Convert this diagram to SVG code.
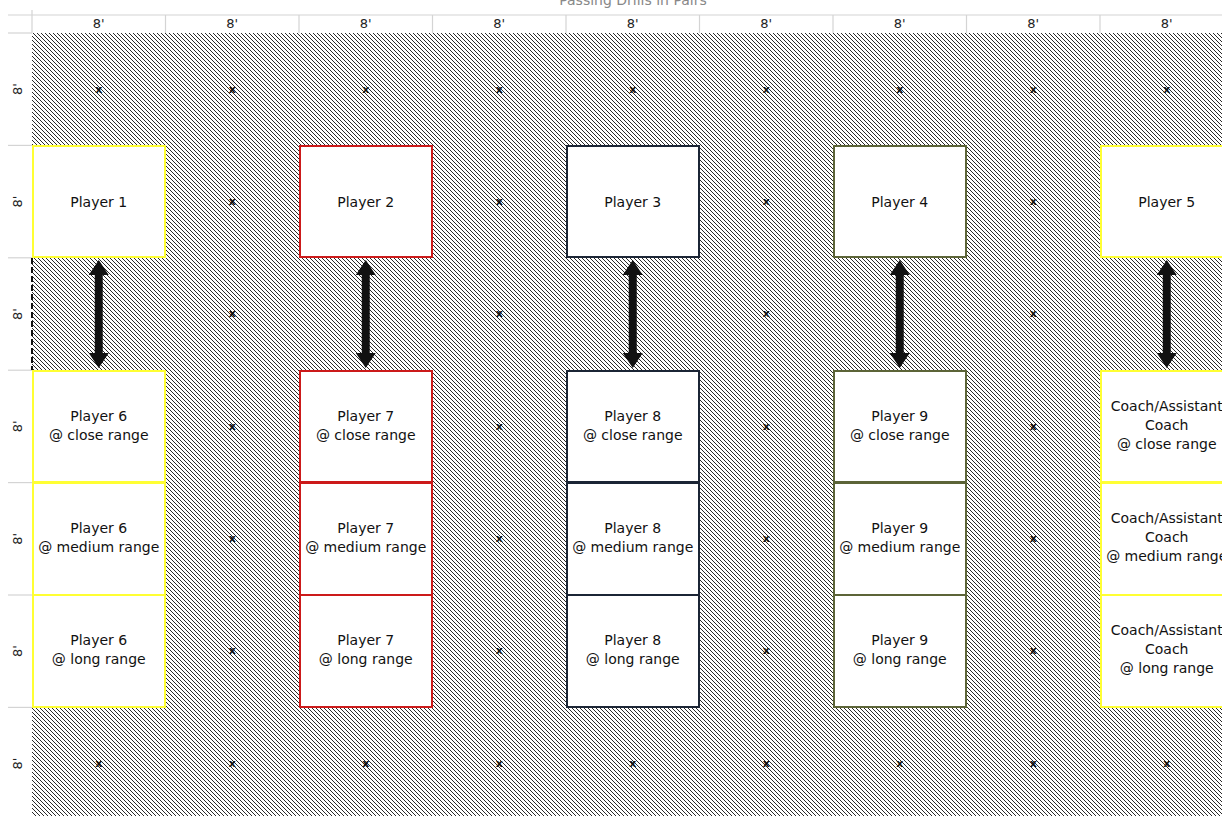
<svg xmlns="http://www.w3.org/2000/svg" width="1222" height="819" viewBox="0 0 1222 819">
<defs>
<pattern id="hatch" patternUnits="userSpaceOnUse" width="4" height="4">
<rect width="4" height="4" fill="#ffffff"/>
<path d="M-1,-1 L5,5 M-1,3 L1,5 M3,-1 L5,1" stroke="#2a2a2a" stroke-width="1"/>
</pattern>
<path id="dblarrow" d="M0,0 L10,15 L4,15 L4,93 L10,93 L0,108 L-10,93 L-4,93 L-4,15 L-10,15 Z" fill="#111"/>
</defs>
<style>
.t{font-family:"DejaVu Sans","Liberation Sans",sans-serif;font-size:14px;fill:#111;text-anchor:middle}
.h{font-family:"DejaVu Sans","Liberation Sans",sans-serif;font-size:13px;fill:#222;text-anchor:middle}
.x{font-family:"DejaVu Sans","Liberation Sans",sans-serif;font-size:11px;font-weight:bold;fill:#111;text-anchor:middle}
.grid{stroke:#d4d4d4;stroke-width:1.2}
.box{fill:#ffffff;stroke-width:2}
.yel{stroke:#ffff33}
.red{stroke:#cc1a1a}
.nav{stroke:#1b2535}
.olv{stroke:#5c6438}
</style>
<rect width="1222" height="819" fill="#ffffff"/>
<rect x="32" y="33" width="1190" height="783" fill="url(#hatch)"/>
<g id="header">
<text x="633" y="5" font-family="DejaVu Sans, sans-serif" font-size="14" fill="#888" text-anchor="middle">Passing Drills in Pairs</text>
<line class="grid" x1="8" y1="15" x2="1222" y2="15"/>
<line class="grid" x1="8" y1="33" x2="32" y2="33"/>
<g class="grid">
<line x1="32" y1="10" x2="32" y2="33"/>
<line x1="165.5" y1="15" x2="165.5" y2="33"/>
<line x1="299" y1="15" x2="299" y2="33"/>
<line x1="432.5" y1="15" x2="432.5" y2="33"/>
<line x1="566" y1="15" x2="566" y2="33"/>
<line x1="699.5" y1="15" x2="699.5" y2="33"/>
<line x1="833" y1="15" x2="833" y2="33"/>
<line x1="966.5" y1="15" x2="966.5" y2="33"/>
<line x1="1100" y1="15" x2="1100" y2="33"/>
</g>
<text class="h" x="98.75" y="28">8'</text>
<text class="h" x="232.25" y="28">8'</text>
<text class="h" x="365.75" y="28">8'</text>
<text class="h" x="499.25" y="28">8'</text>
<text class="h" x="632.75" y="28">8'</text>
<text class="h" x="766.25" y="28">8'</text>
<text class="h" x="899.75" y="28">8'</text>
<text class="h" x="1033.25" y="28">8'</text>
<text class="h" x="1166.75" y="28">8'</text>
</g>
<g id="rowlabels">
<g class="grid">
<line x1="8" y1="145.4" x2="32" y2="145.4"/>
<line x1="8" y1="257.8" x2="32" y2="257.8"/>
<line x1="8" y1="370.2" x2="32" y2="370.2"/>
<line x1="8" y1="482.6" x2="32" y2="482.6"/>
<line x1="8" y1="595" x2="32" y2="595"/>
<line x1="8" y1="707.4" x2="32" y2="707.4"/>
</g>
<text class="h" transform="translate(22,89.2) rotate(-90)">8'</text>
<text class="h" transform="translate(22,201.6) rotate(-90)">8'</text>
<text class="h" transform="translate(22,314) rotate(-90)">8'</text>
<text class="h" transform="translate(22,426.4) rotate(-90)">8'</text>
<text class="h" transform="translate(22,538.8) rotate(-90)">8'</text>
<text class="h" transform="translate(22,651.2) rotate(-90)">8'</text>
<text class="h" transform="translate(22,763.6) rotate(-90)">8'</text>
</g>
<g id="xmarks">
<text class="x" x="98.75" y="93">x</text><text class="x" x="232.25" y="93">x</text><text class="x" x="365.75" y="93">x</text><text class="x" x="499.25" y="93">x</text><text class="x" x="632.75" y="93">x</text><text class="x" x="766.25" y="93">x</text><text class="x" x="899.75" y="93">x</text><text class="x" x="1033.25" y="93">x</text><text class="x" x="1166.75" y="93">x</text>
<text class="x" x="98.75" y="767">x</text><text class="x" x="232.25" y="767">x</text><text class="x" x="365.75" y="767">x</text><text class="x" x="499.25" y="767">x</text><text class="x" x="632.75" y="767">x</text><text class="x" x="766.25" y="767">x</text><text class="x" x="899.75" y="767">x</text><text class="x" x="1033.25" y="767">x</text><text class="x" x="1166.75" y="767">x</text>
<text class="x" x="232.25" y="205">x</text><text class="x" x="499.25" y="205">x</text><text class="x" x="766.25" y="205">x</text><text class="x" x="1033.25" y="205">x</text>
<text class="x" x="232.25" y="317">x</text><text class="x" x="499.25" y="317">x</text><text class="x" x="766.25" y="317">x</text><text class="x" x="1033.25" y="317">x</text>
<text class="x" x="232.25" y="430">x</text><text class="x" x="499.25" y="430">x</text><text class="x" x="766.25" y="430">x</text><text class="x" x="1033.25" y="430">x</text>
<text class="x" x="232.25" y="542">x</text><text class="x" x="499.25" y="542">x</text><text class="x" x="766.25" y="542">x</text><text class="x" x="1033.25" y="542">x</text>
<text class="x" x="232.25" y="654">x</text><text class="x" x="499.25" y="654">x</text><text class="x" x="766.25" y="654">x</text><text class="x" x="1033.25" y="654">x</text>
</g>
<g id="connectors">
<line x1="32" y1="258" x2="32" y2="370" stroke="#111" stroke-width="2" stroke-dasharray="6,3"/>
<use href="#dblarrow" x="98.75" y="260"/>
<use href="#dblarrow" x="365.75" y="260"/>
<use href="#dblarrow" x="632.75" y="260"/>
<use href="#dblarrow" x="899.75" y="260"/>
<use href="#dblarrow" x="1166.75" y="260"/>
</g>
<g id="player1"><rect class="box yel" x="33" y="146" width="132" height="111"/><text class="t" x="98.75" y="206.5">Player 1</text></g>
<g id="player2"><rect class="box red" x="300" y="146" width="132" height="111"/><text class="t" x="365.75" y="206.5">Player 2</text></g>
<g id="player3"><rect class="box nav" x="567" y="146" width="132" height="111"/><text class="t" x="632.75" y="206.5">Player 3</text></g>
<g id="player4"><rect class="box olv" x="834" y="146" width="132" height="111"/><text class="t" x="899.75" y="206.5">Player 4</text></g>
<g id="player5"><rect class="box yel" x="1101" y="146" width="132" height="111"/><text class="t" x="1166.75" y="206.5">Player 5</text></g>

<g id="player6-close"><rect class="box yel" x="33" y="371" width="132" height="111"/><text class="t" x="98.75" y="421">Player 6</text><text class="t" x="98.75" y="440">@ close range</text></g>
<g id="player6-medium"><rect class="box yel" x="33" y="483" width="132" height="112"/><text class="t" x="98.75" y="533">Player 6</text><text class="t" x="98.75" y="552">@ medium range</text></g>
<g id="player6-long"><rect class="box yel" x="33" y="595" width="132" height="112"/><text class="t" x="98.75" y="645">Player 6</text><text class="t" x="98.75" y="664">@ long range</text></g>

<g id="player7-close"><rect class="box red" x="300" y="371" width="132" height="111"/><text class="t" x="365.75" y="421">Player 7</text><text class="t" x="365.75" y="440">@ close range</text></g>
<g id="player7-medium"><rect class="box red" x="300" y="483" width="132" height="112"/><text class="t" x="365.75" y="533">Player 7</text><text class="t" x="365.75" y="552">@ medium range</text></g>
<g id="player7-long"><rect class="box red" x="300" y="595" width="132" height="112"/><text class="t" x="365.75" y="645">Player 7</text><text class="t" x="365.75" y="664">@ long range</text></g>

<g id="player8-close"><rect class="box nav" x="567" y="371" width="132" height="111"/><text class="t" x="632.75" y="421">Player 8</text><text class="t" x="632.75" y="440">@ close range</text></g>
<g id="player8-medium"><rect class="box nav" x="567" y="483" width="132" height="112"/><text class="t" x="632.75" y="533">Player 8</text><text class="t" x="632.75" y="552">@ medium range</text></g>
<g id="player8-long"><rect class="box nav" x="567" y="595" width="132" height="112"/><text class="t" x="632.75" y="645">Player 8</text><text class="t" x="632.75" y="664">@ long range</text></g>

<g id="player9-close"><rect class="box olv" x="834" y="371" width="132" height="111"/><text class="t" x="899.75" y="421">Player 9</text><text class="t" x="899.75" y="440">@ close range</text></g>
<g id="player9-medium"><rect class="box olv" x="834" y="483" width="132" height="112"/><text class="t" x="899.75" y="533">Player 9</text><text class="t" x="899.75" y="552">@ medium range</text></g>
<g id="player9-long"><rect class="box olv" x="834" y="595" width="132" height="112"/><text class="t" x="899.75" y="645">Player 9</text><text class="t" x="899.75" y="664">@ long range</text></g>

<g id="coach-close"><rect class="box yel" x="1101" y="371" width="132" height="111"/><text class="t" x="1166.75" y="411">Coach/Assistant</text><text class="t" x="1166.75" y="430">Coach</text><text class="t" x="1166.75" y="449">@ close range</text></g>
<g id="coach-medium"><rect class="box yel" x="1101" y="483" width="132" height="112"/><text class="t" x="1166.75" y="523">Coach/Assistant</text><text class="t" x="1166.75" y="542">Coach</text><text class="t" x="1166.75" y="561">@ medium range</text></g>
<g id="coach-long"><rect class="box yel" x="1101" y="595" width="132" height="112"/><text class="t" x="1166.75" y="635">Coach/Assistant</text><text class="t" x="1166.75" y="654">Coach</text><text class="t" x="1166.75" y="673">@ long range</text></g>
</svg>
